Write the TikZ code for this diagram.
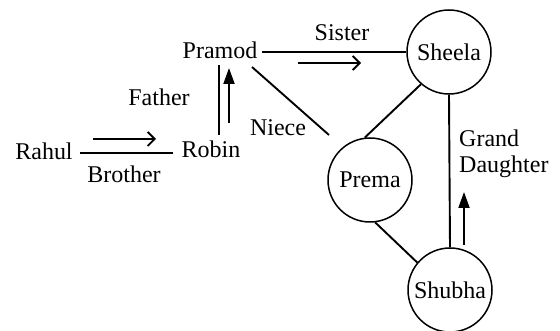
\documentclass[tikz,border=0pt]{standalone}
\usepackage{fontspec}
\setmainfont{Liberation Serif}
\usetikzlibrary{arrows.meta}
\begin{document}
\begin{tikzpicture}[x=1pt,y=-1pt,
  lbl/.style={inner sep=0pt, anchor=base, font=\fontsize{24}{28}\selectfont},
  person/.style={circle, draw, line width=1.5pt, minimum size=84pt, inner sep=0pt, font=\fontsize{24}{28}\selectfont},
  conn/.style={line width=1.9pt},
  openarr/.style={line width=1.9pt, -{Straight Barb[length=7pt,width=14pt]}},
  fillarr/.style={line width=1.9pt, -{Triangle[length=16pt,width=11pt]}}]
\useasboundingbox (0,0) rectangle (560,331);
% text nodes
\node[lbl] (pramod) at (220,59) {Pramod};
\node[lbl] (robin) at (211,158) {Robin};
\node[lbl] (rahul) at (44,160) {Rahul};
\node[lbl] (brother) at (124,183) {Brother};
\node[lbl] (father) at (159,106) {Father};
\node[lbl] (niece) at (278,136) {Niece};
\node[lbl] (sister) at (342,41) {Sister};
\node[lbl, anchor=base west] (grand) at (459,147) {Grand};
\node[lbl, anchor=base west] (daughter) at (459,173) {Daughter};
% circles
\node[person] (sheela) at (449,52) {Sheela};
\node[person] (prema) at (370,180) {Prema};
\node[person] (shubha) at (450,290) {Shubha};
% coordinates
\coordinate (pramodE) at (262,52);
\coordinate (nieceA) at (252,67);
\coordinate (nieceB) at (329,135);
\coordinate (prTop) at (219,65);
\coordinate (prBot) at (219,135);
\coordinate (faA) at (229,123);
\coordinate (faB) at (229,68);
\coordinate (rhA) at (80,153);
\coordinate (rhB) at (173,153);
\coordinate (brA) at (93,139);
\coordinate (brB) at (156,139);
\coordinate (siA) at (298,63);
\coordinate (siB) at (361,63);
\coordinate (gdA) at (464,245);
\coordinate (gdB) at (464,192);
% connectors
\draw[conn] (pramodE) -- (sheela.west);
\draw[conn] (nieceA) -- (nieceB);
\draw[conn] (prTop) -- (prBot);
\draw[conn] (rhA) -- (rhB);
\draw[conn] (sheela.229) -- (prema.97);
\draw[conn] (prema.-83) -- (shubha.140);
\draw[conn] (sheela.south) -- (shubha.north);
% arrows
\draw[openarr] (siA) -- (siB);
\draw[openarr] (brA) -- (brB);
\draw[fillarr] (faA) -- (faB);
\draw[fillarr] (gdA) -- (gdB);
\end{tikzpicture}
\end{document}
